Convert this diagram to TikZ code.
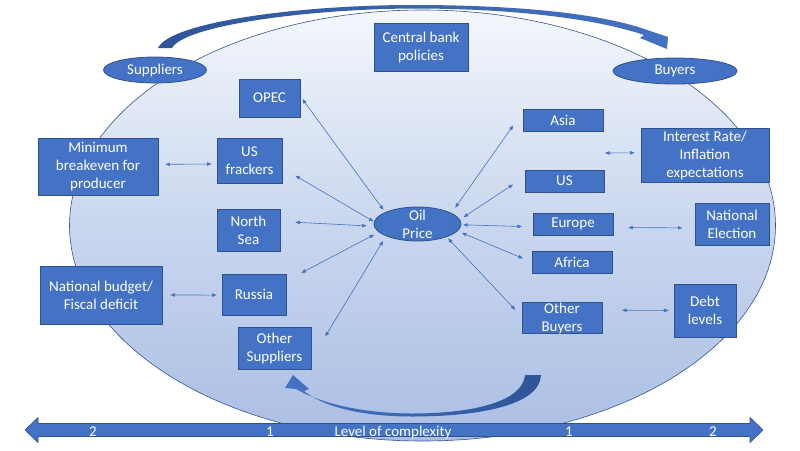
\documentclass[tikz,border=0pt]{standalone}
\usepackage{fontspec}
\setmainfont{Carlito}
\usetikzlibrary{arrows.meta, shapes.geometric}

\definecolor{boxblue}{HTML}{4472C4}
\definecolor{boxline}{HTML}{2F528F}
\definecolor{arcdark}{HTML}{2F5597}
\definecolor{hitop}{HTML}{F4F7FC}
\definecolor{himid}{HTML}{C9D6EE}
\definecolor{hibot}{HTML}{ABBFE4}

\newcommand{\boxfont}{\fontsize{15}{18}\selectfont}

\begin{document}
\begin{tikzpicture}[x=1pt, y=-1pt,
  box/.style={draw=boxline, line width=0.8pt, fill=boxblue, text=white, align=center, inner sep=0pt, font=\boxfont},
  oval/.style={box, ellipse},
  link/.style={draw=boxblue, line width=0.6pt, <->, >={Triangle[length=4.5pt,width=3.5pt]}},
  axlabel/.style={text=white, font=\boxfont, anchor=base, inner sep=0pt}]
  \useasboundingbox (0,0) rectangle (800,450);

  \shadedraw[top color=hitop, bottom color=hibot, middle color=himid, draw=arcdark, line width=0.6pt]
    (422.5,225.5) ellipse [x radius=353, y radius=215.5];

  \shade[left color=arcdark, right color=boxblue] (158,48) .. controls (170,22) and (300,5) .. (413,5)
    .. controls (520,5) and (605,14) .. (650,31) -- (668,37) -- (667,49) -- (640,38) -- (644,35)
    .. controls (600,20) and (520,8.5) .. (413,8.5) .. controls (310,9) and (185,25) .. (172,48) -- cycle;
  \shade[left color=boxblue, right color=arcdark] (525,375) -- (541,375) .. controls (540,405) and (480,416.5) .. (412,416.5)
    .. controls (360,416.5) and (322,406) .. (304,391) -- (309,389) -- (293,375) -- (285,388) -- (296,389)
    .. controls (320,403) and (362,413.5) .. (412,413.5) .. controls (478,413.5) and (523,400) .. (525,375) -- cycle;

  \filldraw[fill=boxblue, draw=boxline, line width=0.6pt] (25,430) -- (38,417.5) -- (38,423.5) -- (750,423.5)
    -- (750,417.5) -- (763,430) -- (750,442.5) -- (750,436.5) -- (38,436.5) -- (38,442.5) -- cycle;
  \node[axlabel] (lvltwoa) at (93,436) {2};
  \node[axlabel] (lvlonea) at (270,436) {1};
  \node[axlabel] (lvl) at (393,436) {Level of complexity};
  \node[axlabel] (lvloneb) at (569,436) {1};
  \node[axlabel] (lvltwob) at (713,436) {2};

  \node[box, minimum width=94pt, minimum height=48pt] (cbank) at (421,47) {Central bank\\policies};
  \node[oval, minimum width=103pt, minimum height=26pt] (sup) at (155,70) {Suppliers};
  \node[oval, minimum width=124pt, minimum height=26pt] (buy) at (675,71) {Buyers};
  \node[box, minimum width=61pt, minimum height=38pt] (opec) at (269.5,98) {OPEC};
  \node[box, minimum width=120pt, minimum height=57pt] (minbe) at (98,166.5) {Minimum\\breakeven for\\producer};
  \node[box, minimum width=65pt, minimum height=45pt] (usfr) at (249.5,160.5) {US\\frackers};
  \node[box, minimum width=63pt, minimum height=42pt] (nsea) at (248.5,230) {North\\Sea};
  \node[box, minimum width=122pt, minimum height=58pt] (budget) at (101,295) {National budget/\\Fiscal deficit};
  \node[box, minimum width=64pt, minimum height=41pt] (russia) at (254,294.5) {Russia};
  \node[box, minimum width=73pt, minimum height=42pt] (osup) at (274.5,348) {Other\\Suppliers};
  \node[oval, minimum width=87pt, minimum height=34pt, inner ysep=-3pt] (oil) at (417.5,224) {Oil\\Price};
  \node[box, minimum width=80pt, minimum height=22pt] (asia) at (563,120) {Asia};
  \node[box, minimum width=128pt, minimum height=54pt] (irate) at (705,155) {Interest Rate/\\Inflation\\expectations};
  \node[box, minimum width=79pt, minimum height=22pt] (us) at (564.5,181) {US};
  \node[box, minimum width=80pt, minimum height=22pt] (europe) at (573,224) {Europe};
  \node[box, minimum width=74pt, minimum height=42pt] (elect) at (732,224) {National\\Election};
  \node[box, minimum width=80pt, minimum height=22pt] (africa) at (572,262) {Africa};
  \node[box, minimum width=80pt, minimum height=30pt] (obuy) at (562,318) {Other\\Buyers};
  \node[box, minimum width=62pt, minimum height=53pt] (debt) at (705,310.5) {Debt\\levels};
  \coordinate (rfree) at (605,153);

  \draw[link, shorten <=3.4pt, shorten >=3pt] (opec.3) -- (oil.160);
  \draw[link, shorten <=15pt, shorten >=0.5pt] (usfr.-13.8) -- (oil.177);
  \draw[link, shorten <=15pt, shorten >=7.4pt] (nsea.15.6) -- (oil.183.2);
  \draw[link, shorten <=16.9pt, shorten >=5.4pt] (russia.23.3) -- (oil.192.7);
  \draw[link, shorten <=26.7pt, shorten >=5.7pt] (osup.-17.9) -- (oil.201.6);
  \draw[link, shorten <=16.3pt, shorten >=6.5pt] (asia.169.1) -- (oil.18.4);
  \draw[link, shorten <=13.9pt, shorten >=4.4pt] (us.174.9) -- (oil.6.3);
  \draw[link, shorten <=10.7pt, shorten >=1.8pt] (europe.184.3) -- (oil.-1.7);
  \draw[link, shorten <=9.4pt, shorten >=4.6pt] (africa.180.3) -- (oil.-10.5);
  \draw[link, shorten <=9.2pt, shorten >=2.1pt] (obuy.178) -- (oil.-24);
  \draw[link, shorten <=7pt, shorten >=5pt] (minbe.2.4) -- (usfr.186.1);
  \draw[link, shorten <=8pt, shorten >=5pt] (budget.east) -- (russia.181);
  \draw[link, shorten >=6pt] (rfree) -- (irate.178.2);
  \draw[link, shorten <=15pt, shorten >=12.3pt] (europe.-5.7) -- (elect.186.2);
  \draw[link, shorten <=19.7pt, shorten >=5pt] (obuy.11.3) -- (debt.180.9);
\end{tikzpicture}
\end{document}
